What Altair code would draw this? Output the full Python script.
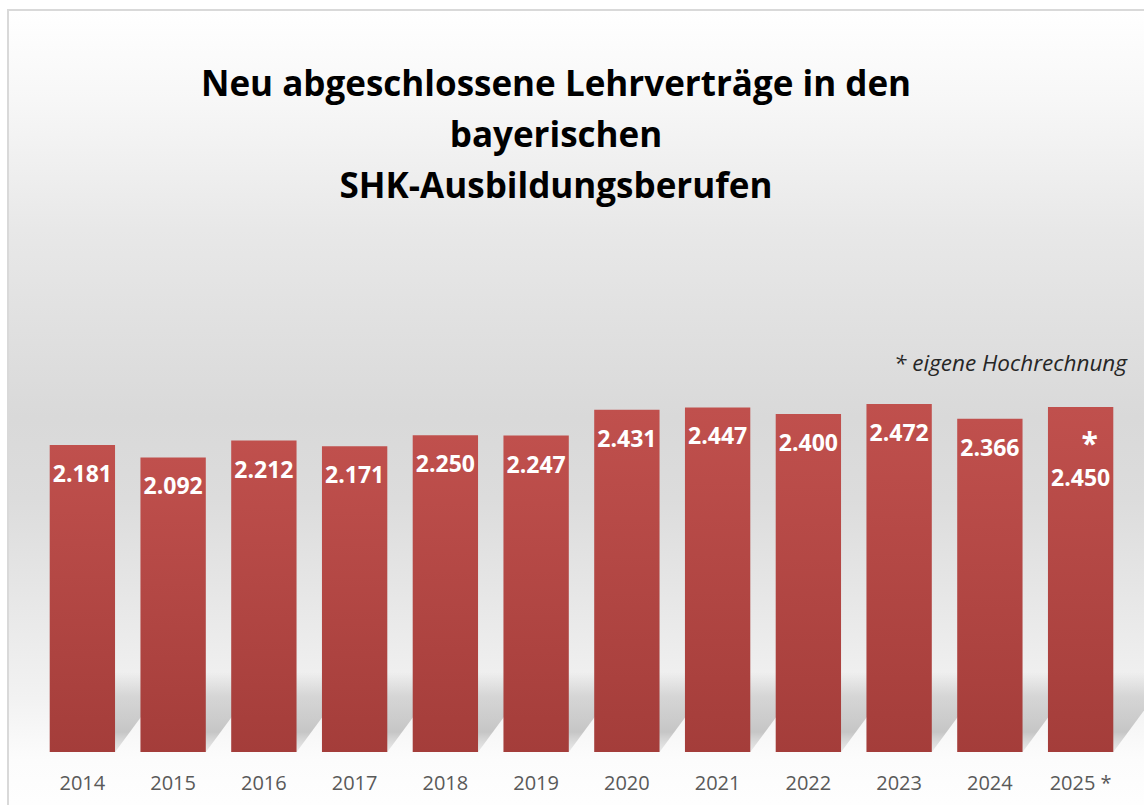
import altair as alt
import pandas as pd

years = ["2014", "2015", "2016", "2017", "2018", "2019", "2020", "2021", "2022", "2023", "2024", "2025 *"]
values = [2181, 2092, 2212, 2171, 2250, 2247, 2431, 2447, 2400, 2472, 2366, 2450]
projected = [False] * 11 + [True]

title_lines = ["Neu abgeschlossene Lehrverträge in den", "bayerischen", "SHK-Ausbildungsberufen"]
note_text = "* eigene Hochrechnung"

df = pd.DataFrame({
    "year": years,
    "value": values,
    "projected": projected,
    "label": [f"{v:,}".replace(",", ".") for v in values],
})

FONT = "Open Sans"
W, H = 1089, 704
PL, PT = 37, 48

xenc = alt.X("year:N", sort=years,
             scale=alt.Scale(paddingInner=0.28, paddingOuter=0.14),
             axis=alt.Axis(title=None, domain=False, ticks=False, tickSize=0, labelAngle=0,
                           labelFontSize=20, labelColor="#595959", labelFont=FONT,
                           labelPadding=21, grid=False, zindex=1))
yenc = alt.Y("value:Q", scale=alt.Scale(domain=[0, 5000], nice=False, zero=True), axis=None)

one = pd.DataFrame({"k": [0]})

bg = alt.Chart(one).mark_rect(
    fill=alt.Gradient(
        gradient="linear", x1=0, x2=0, y1=0, y2=1,
        stops=[
            alt.GradientStop(offset=0.0, color="#FFFFFF"),
            alt.GradientStop(offset=0.11, color="#F7F7F7"),
            alt.GradientStop(offset=0.27, color="#E8E8E8"),
            alt.GradientStop(offset=0.50, color="#D9D9D9"),
            alt.GradientStop(offset=0.60, color="#DCDCDC"),
            alt.GradientStop(offset=0.845, color="#F2F2F2"),
            alt.GradientStop(offset=0.92, color="#FCFCFC"),
            alt.GradientStop(offset=1.0, color="#FFFFFF"),
        ]),
    stroke="#D9D9D9", strokeWidth=2,
).encode(
    x=alt.value(8 - PL), x2=alt.value(1144 - PL + 20),
    y=alt.value(10 - PT), y2=alt.value(805 - PT + 20),
)

shadow_path = "M -0.655 0 L 0.655 0 L 1.835 -1.6 L 0.525 -1.6 Z"
shadow = alt.Chart(df).transform_calculate(zero="0").mark_point(
    shape=shadow_path, size=10000, filled=True, strokeWidth=0, opacity=1,
    fill=alt.Gradient(
        gradient="linear", x1=0, x2=0, y1=0, y2=1,
        stops=[
            alt.GradientStop(offset=0.0, color="rgba(195,195,195,0)"),
            alt.GradientStop(offset=0.3, color="rgba(195,195,195,0.6)"),
            alt.GradientStop(offset=0.75, color="rgba(195,195,195,0.95)"),
            alt.GradientStop(offset=1.0, color="rgba(210,210,210,0.4)"),
        ]),
).encode(x=xenc, y=alt.Y("zero:Q", scale=alt.Scale(domain=[0, 5000], nice=False), axis=None))

bars = alt.Chart(df).mark_bar(
    fill=alt.Gradient(
        gradient="linear", x1=0, x2=0, y1=0, y2=1,
        stops=[
            alt.GradientStop(offset=0.0, color="#C0504D"),
            alt.GradientStop(offset=1.0, color="#A43D3A"),
        ]),
).encode(x=xenc, y=yenc)

lab_style = dict(color="white", fontSize=23, fontWeight="bold", font=FONT, baseline="middle", align="center")
labels = alt.Chart(df).transform_filter("!datum.projected").mark_text(dy=30, **lab_style).encode(
    x=xenc, y=yenc, text="label:N")
labels_proj = alt.Chart(df).transform_filter("datum.projected").mark_text(dy=72, **lab_style).encode(
    x=xenc, y=yenc, text="label:N")
star = alt.Chart(df).transform_filter("datum.projected").mark_text(
    dy=38, dx=9, color="white", fontSize=30, fontWeight="bold", font=FONT, baseline="middle", align="center"
).encode(x=xenc, y=yenc, text=alt.value("*"))

title = alt.Chart(one).mark_text(
    text=title_lines, font=FONT, fontSize=35, fontWeight="bold", color="black",
    align="center", baseline="alphabetic", lineHeight=51,
).encode(x=alt.value(556 - PL), y=alt.value(96 - PT))

note = alt.Chart(one).mark_text(
    text=note_text, font=FONT, fontSize=22.5, fontStyle="italic", color="#262626",
    align="right", baseline="alphabetic",
).encode(x=alt.value(1127 - PL), y=alt.value(371 - PT))

chart = alt.layer(bg, shadow, bars, labels, labels_proj, star, title, note).properties(
    width=W, height=H,
    padding={"left": PL, "top": PT, "right": 1144 - PL - W, "bottom": 805 - PT - H},
    autosize=alt.AutoSizeParams(type="none"),
    background="white",
).configure_view(stroke=None)

chart.save("out.html", embed_options={"renderer": "svg", "actions": False})
